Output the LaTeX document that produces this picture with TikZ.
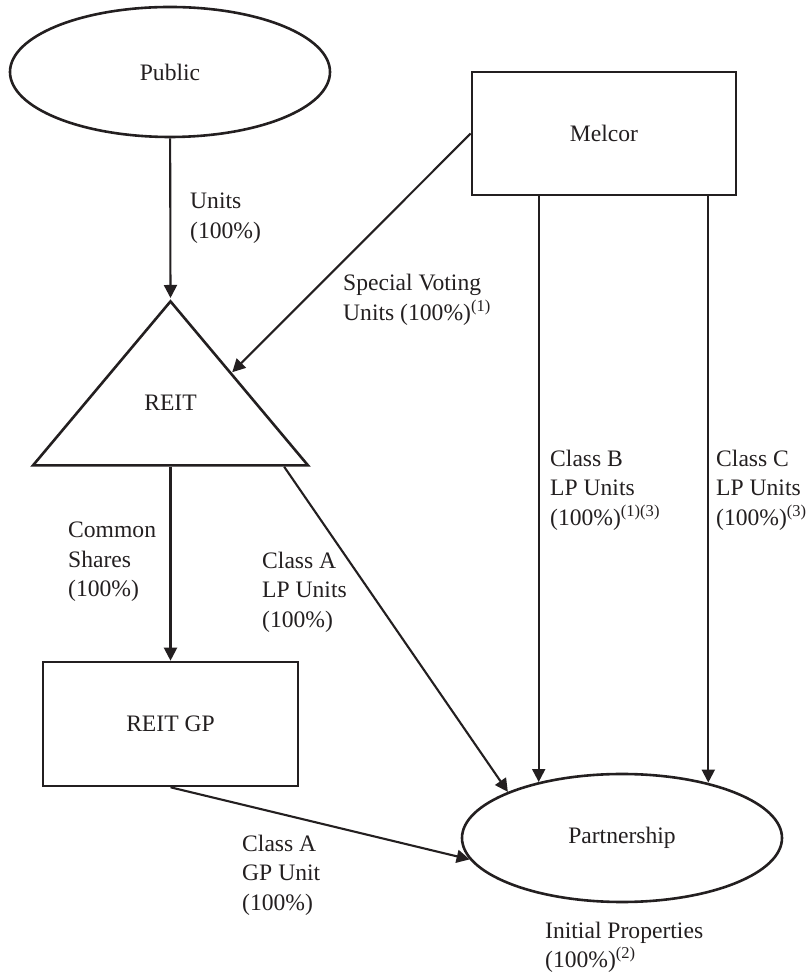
\documentclass[tikz,border=0pt]{standalone}
\usepackage{fontspec}
\setmainfont{Liberation Serif}
\usetikzlibrary{arrows.meta}
\usetikzlibrary{shapes.geometric}
\usetikzlibrary{calc}
\definecolor{ink}{HTML}{231F20}
\tikzstyle{block} = [rectangle, draw=ink, line width=2.6pt, text=ink]
\tikzstyle{holder} = [ellipse, draw=ink, line width=2.6pt, minimum width=320pt, inner sep=0pt, text=ink]
\tikzstyle{trust} = [isosceles triangle, isosceles triangle stretches, shape border rotate=90, draw=ink, line width=2.6pt, minimum width=275pt, minimum height=164pt, inner sep=0pt, text=ink]
\tikzstyle{note} = [align=left, anchor=west, inner sep=0pt, text=ink]
\tikzstyle{arrow} = [-{Triangle[length=13pt,width=13pt]}, draw=ink, line width=2.1pt]

\begin{document}
\begin{tikzpicture}[x=1pt, y=1pt, font=\fontsize{23.6}{29.5}\selectfont]
  \useasboundingbox (0,0) rectangle (806,977);

  % We start by placing the entities
  \node (public) [holder, minimum height=130pt] at (170,905) {Public};
  \node (melcor) [block, minimum width=264pt, minimum height=123pt] at (604,843.5) {Melcor};
  \node (reit) [trust, anchor=apex] at (170.5,679) {\raisebox{14pt}{REIT}};
  \node (reitgp) [block, minimum width=255pt, minimum height=124pt] at (170.5,253) {REIT GP};
  \node (part) [holder, minimum height=128pt] at (622,139) {Partnership};

  % Points where the LP unit lines leave Melcor
  \coordinate (classb) at ($(melcor.south west)+(68,0)$);
  \coordinate (classc) at ($(melcor.south east)+(-29,0)$);

  % Then the labels
  \node (units) [note] at (190,759) {Units\\(100\%)};
  \node (voting) [note] at (343,677) {Special Voting\\Units (100\%)\textsuperscript{(1)}};
  \node (common) [note] at (68,415) {Common\\Shares\\(100\%)};
  \node (classalp) [note] at (262,385) {Class A\\LP Units\\(100\%)};
  \node (classblp) [note] at (550,487) {Class B\\LP Units\\(100\%)\textsuperscript{(1)(3)}};
  \node (classclp) [note] at (716,487) {Class C\\LP Units\\(100\%)\textsuperscript{(3)}};
  \node (classagp) [note] at (242,102) {Class A\\GP Unit\\(100\%)};
  \node (initial) [note] at (545,29.5) {Initial Properties\\(100\%)\textsuperscript{(2)}};

  % Draw the connections between entities
  \draw [arrow] (public) -- (reit.apex);
  \draw [arrow] (melcor.west) -- ($(reit.apex)!0.44!(reit.right corner)$);
  \draw [arrow] (reit.lower side) -- (reitgp);
  \draw [arrow] ($(reit.left corner)!0.905!(reit.right corner)$) -- (part.158);
  \draw [arrow] (classb) -- (classb |- part.146);
  \draw [arrow] (classc) -- (classc |- part.33);
  \draw [arrow] (reitgp.south) -- (part.188);

\end{tikzpicture}
\end{document}
